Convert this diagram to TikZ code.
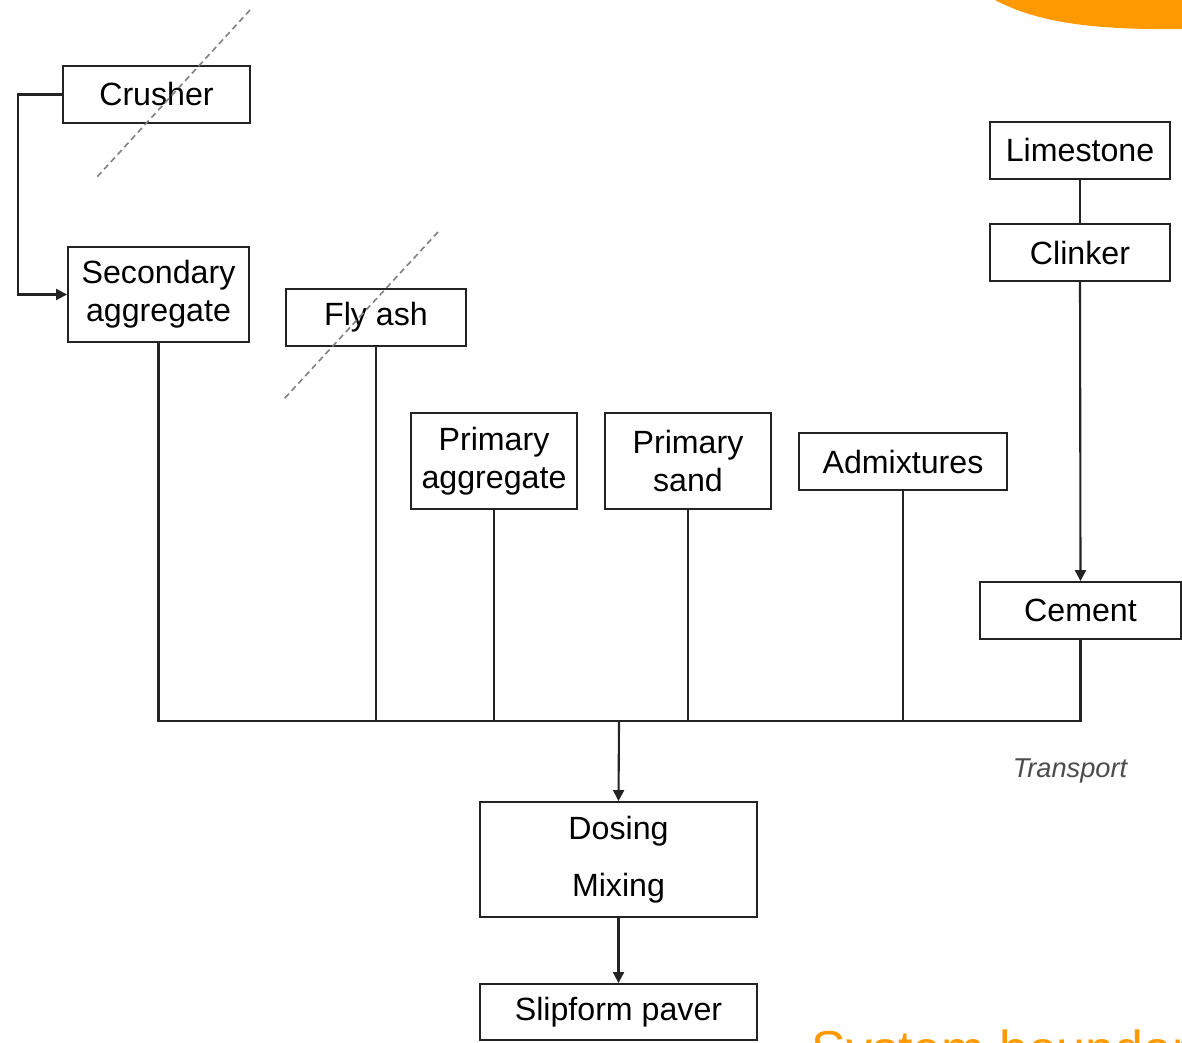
\documentclass[tikz,border=0pt]{standalone}
\usepackage{fontspec}
\setmainfont{Liberation Sans}
\usetikzlibrary{arrows.meta}
\definecolor{sysorange}{RGB}{255,153,0}
\definecolor{linegray}{RGB}{35,35,35}
\tikzset{
  box/.style={draw=linegray, line width=1.1pt, rectangle, inner sep=0pt, align=center,
    font=\fontsize{18.3}{21.6}\selectfont, text=black},
  conn/.style={draw=linegray, line width=1.2pt},
  arr/.style={conn, -{Triangle[length=0.22cm,width=0.22cm]}},
  cut/.style={draw=gray, line width=0.9pt, dash pattern=on 0.12cm off 0.08cm},
}
\begin{document}
\begin{tikzpicture}[x={(0.02cm,0)}, y={(0,-0.02cm)}]
\clip (0,0) rectangle (1182,1042);
\fill[white] (0,0) rectangle (1182,1042);
% orange shape top right
\fill[sysorange] (995,0) .. controls (1040,24) and (1100,30) .. (1182,29) -- (1182,0) -- cycle;
% nodes
\node[box, minimum width=3.74cm, minimum height=1.14cm] (crusher) at (156.5,94.5) {Crusher};
\node[box, minimum width=3.62cm, minimum height=1.90cm] (secagg) at (158.5,294.5) {Secondary\\aggregate};
\node[box, minimum width=3.60cm, minimum height=1.14cm] (flyash) at (376,317.5) {Fly ash};
\node[box, minimum width=3.32cm, minimum height=1.92cm] (primagg) at (494,461) {Primary\\aggregate};
\node[box, minimum width=3.32cm, minimum height=1.92cm] (primsand) at (688,461) {Primary\\sand};
\node[box, minimum width=4.16cm, minimum height=1.14cm] (admix) at (903,461.5) {Admixtures};
\node[box, minimum width=3.60cm, minimum height=1.14cm] (limestone) at (1080,150.5) {Limestone};
\node[box, minimum width=3.60cm, minimum height=1.14cm] (clinker) at (1080,252.5) {Clinker};
\node[box, minimum width=4.02cm, minimum height=1.14cm] (cement) at (1080.5,610.5) {Cement};
\node[box, minimum width=5.54cm, minimum height=2.30cm, font=\fontsize{18.3}{32.4}\selectfont] (dosing) at (618.5,859.5) {Dosing\\Mixing};
\node[box, minimum width=5.54cm, minimum height=1.12cm] (slipform) at (618.5,1012) {Slipform paver};
% transport label
\node[font=\itshape\fontsize{15.5}{18}\selectfont, text=black!70, inner sep=0pt] (transport) at (1070,771) {Transport};
% system boundary text (cut by the picture's lower edge, as in the reference)
\node[font=\fontsize{29.6}{34}\selectfont, text=sysorange, anchor=base west, inner sep=0pt] (sysb) at (811,1067) {System boundary};
% connectors
\coordinate (j) at (619,721);
\draw[arr] (crusher.west) -- ++(-44,0) |- (secagg.west);
\draw[conn] (limestone.south) -- (clinker.north);
\draw[arr] (clinker.south) -- (cement.north);
\draw[conn] (secagg.south) |- (j);
\draw[conn] (cement.south) |- (j);
\draw[conn] (flyash.south) -- (flyash.south |- j);
\draw[conn] (primagg.south) -- (primagg.south |- j);
\draw[conn] (primsand.south) -- (primsand.south |- j);
\draw[conn] (admix.south) -- (admix.south |- j);
\draw[arr] (j) -- (dosing.north);
\draw[arr] (dosing.south) -- (slipform.north);
% cut lines
\draw[cut] (250,10) -- (97,177);
\draw[cut] (438,232) -- (284,399);
\end{tikzpicture}
\end{document}
